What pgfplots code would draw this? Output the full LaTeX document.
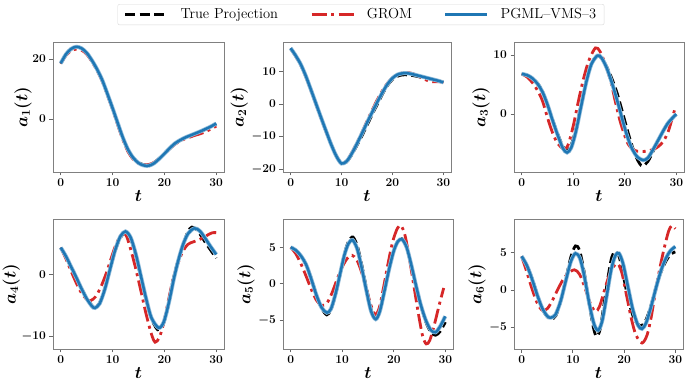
\documentclass[border=0pt]{standalone}
\usepackage{pgfplots}
\pgfplotsset{compat=1.18}
\definecolor{tabred}{HTML}{D62728}
\definecolor{tabblue}{HTML}{1F77B4}

\pgfplotsset{
  panel/.style={
    scale only axis, height=130pt, anchor=south west,
    xmin=-1.5, xmax=31.5, xtick={0,10,20,30},
    axis line style={black!50, line width=0.8pt},
    tick style={black!60, line width=0.8pt},
    tick align=outside, major tick length=3.5pt,
    xtick pos=bottom, ytick pos=left,
    ticklabel style={font=\fontsize{12}{12}\selectfont\boldmath},
    label style={font=\fontsize{17}{17}\selectfont\boldmath},
    xlabel={$t$},
    xlabel style={yshift=3pt},
    ylabel shift=-3pt,
  },
  truep/.style={black, line width=2.8pt, dash pattern=on 10pt off 4.5pt, smooth},
  grom/.style={tabred, line width=2.8pt, dash pattern=on 15pt off 4.5pt on 3pt off 4.5pt, smooth},
  pgmlband/.style={tabblue!50, line width=4pt, smooth, forget plot},
  pgml/.style={tabblue, line width=2.5pt, smooth},
}

\begin{document}
\begin{tikzpicture}
\useasboundingbox (0pt,0pt) rectangle (689pt,386pt);

% a1
\begin{axis}[panel, at={(53pt,214pt)}, width=171pt,
  ymin=-17.7, ymax=25.7, ytick={0,20}, ylabel={$a_1(t)$}, ylabel shift=-6pt]
\addplot[truep] coordinates {(0,18.5)(1,21.5)(2,23.3)(3,24)(4,23.5)(5,22)(6,19.5)(7,16.5)(8,13)(9,8.3)(10,3.5)(11,-1.5)(12,-6.5)(13,-10.5)(14,-13)(15,-14.5)(16,-15.3)(17,-15.4)(18,-14.6)(19,-13.2)(20,-11.5)(21,-9.8)(22,-8.3)(23,-7.2)(24,-6.3)(25,-5.6)(26,-4.9)(27,-4.2)(28,-3.4)(29,-2.6)(30,-1.7)};
\addplot[grom] coordinates {(0,18.5)(1,21.2)(2,22.8)(3,23.3)(4,23)(5,21.6)(6,19.2)(7,16.2)(8,12.6)(9,8)(10,3.2)(11,-2)(12,-7)(13,-11)(14,-13.5)(15,-14.8)(16,-15.3)(17,-15.2)(18,-14.5)(19,-13.2)(20,-11.6)(21,-10)(22,-8.5)(23,-7.4)(24,-6.6)(25,-6)(26,-5.4)(27,-4.9)(28,-4.2)(29,-3.3)(30,-2.4)};
\addplot[pgmlband] coordinates {(0,18.6)(1,21.6)(2,23.4)(3,24.1)(4,23.6)(5,22.1)(6,19.6)(7,16.6)(8,13)(9,8.4)(10,3.6)(11,-1.4)(12,-6.3)(13,-10.3)(14,-13)(15,-14.7)(16,-15.5)(17,-15.6)(18,-14.8)(19,-13.3)(20,-11.6)(21,-9.8)(22,-8.2)(23,-7.1)(24,-6.2)(25,-5.5)(26,-4.8)(27,-4.1)(28,-3.3)(29,-2.5)(30,-1.5)};
\addplot[pgml] coordinates {(0,18.6)(1,21.6)(2,23.4)(3,24.1)(4,23.6)(5,22.1)(6,19.6)(7,16.6)(8,13)(9,8.4)(10,3.6)(11,-1.4)(12,-6.3)(13,-10.3)(14,-13)(15,-14.7)(16,-15.5)(17,-15.6)(18,-14.8)(19,-13.3)(20,-11.6)(21,-9.8)(22,-8.2)(23,-7.1)(24,-6.2)(25,-5.5)(26,-4.8)(27,-4.1)(28,-3.3)(29,-2.5)(30,-1.5)};
\end{axis}

% a2 (carries the legend)
\begin{axis}[panel, at={(283pt,214pt)}, width=168pt,
  ymin=-20.9, ymax=19, ytick={-20,-10,0,10}, ylabel={$a_2(t)$},
  legend columns=3,
  legend style={at={(0.464,1.292)}, anchor=north, draw=black!15, rounded corners=2pt,
    font=\fontsize{14.5}{16}\selectfont, inner xsep=6pt, inner ysep=2.5pt,
    /tikz/every odd column/.append style={column sep=10pt},
    /tikz/every even column/.append style={column sep=30pt}},
  legend image code/.code={\draw[#1] (0pt,0pt) -- (42pt,0pt);}]
\addplot[truep] coordinates {(0,17)(1,14.8)(2,12)(3,8.5)(4,4.3)(5,0)(6,-4.3)(7,-8.5)(8,-12.5)(9,-16)(10,-18.3)(11,-17.8)(12,-15.6)(13,-12.8)(14,-9.8)(15,-6.6)(16,-3.3)(17,-0.2)(18,2.9)(19,5.6)(20,7.5)(21,8.5)(22,8.9)(23,8.9)(24,8.7)(25,8.4)(26,8.1)(27,7.8)(28,7.5)(29,7.1)(30,6.7)};
\addplot[grom] coordinates {(0,17)(1,14.6)(2,11.8)(3,8.3)(4,4.1)(5,-0.2)(6,-4.5)(7,-8.7)(8,-12.6)(9,-16)(10,-18.2)(11,-17.5)(12,-15)(13,-12)(14,-8.8)(15,-5.3)(16,-2)(17,1.2)(18,4)(19,6.3)(20,8)(21,9)(22,9.5)(23,9.6)(24,9.3)(25,8.6)(26,7.8)(27,7.1)(28,6.8)(29,6.8)(30,6.7)};
\addplot[pgmlband] coordinates {(0,17.1)(1,14.8)(2,12.1)(3,8.5)(4,4.3)(5,0)(6,-4.3)(7,-8.5)(8,-12.6)(9,-16.1)(10,-18.3)(11,-17.6)(12,-15.3)(13,-12.3)(14,-9.1)(15,-5.8)(16,-2.6)(17,0.5)(18,3.4)(19,6)(20,7.9)(21,9)(22,9.4)(23,9.4)(24,9.1)(25,8.7)(26,8.3)(27,7.9)(28,7.5)(29,7.1)(30,6.6)};
\addplot[pgml] coordinates {(0,17.1)(1,14.8)(2,12.1)(3,8.5)(4,4.3)(5,0)(6,-4.3)(7,-8.5)(8,-12.6)(9,-16.1)(10,-18.3)(11,-17.6)(12,-15.3)(13,-12.3)(14,-9.1)(15,-5.8)(16,-2.6)(17,0.5)(18,3.4)(19,6)(20,7.9)(21,9)(22,9.4)(23,9.4)(24,9.1)(25,8.7)(26,8.3)(27,7.9)(28,7.5)(29,7.1)(30,6.6)};
\legend{True Projection, GROM, PGML--VMS--3}
\end{axis}

% a3
\begin{axis}[panel, at={(514pt,214pt)}, width=170pt,
  ymin=-9.8, ymax=12.2, ytick={0,10}, ylabel={$a_3(t)$}]
\addplot[truep] coordinates {(0,6.8)(1,6.6)(2,6.1)(3,5.3)(4,3.9)(5,1.6)(6,-1)(7,-3.4)(8,-5.5)(8.7,-6.2)(9.5,-5.5)(10.5,-2.6)(11.5,1.5)(12.5,5.5)(13.5,8.5)(14.6,9.8)(15.5,9.5)(16.5,8)(17.5,6)(18.5,3.6)(19.5,0.5)(20.5,-2.7)(21.5,-5.6)(22.5,-7.8)(23.4,-8.8)(24.5,-8)(25.5,-6.3)(26.5,-4.5)(27.5,-2.8)(28.5,-1.4)(30,-0.1)};
\addplot[grom] coordinates {(0,6.8)(1,6.3)(2,5.4)(3,4.1)(4,2.3)(5,-0.6)(6,-3.2)(7,-5)(8.2,-5.9)(9,-5.2)(10,-2)(11,2.2)(12,6)(13,9)(14.3,11.2)(15.2,10.6)(16.2,8.5)(17.3,5.5)(18.2,2)(19.2,-1.5)(20.5,-4.8)(21.5,-5.9)(22.5,-6.3)(24,-6.3)(25.5,-6)(26.5,-5.5)(27.5,-4.6)(28.5,-2.8)(29.7,0.8)};
\addplot[pgmlband] coordinates {(0,6.8)(1,6.6)(2,6.1)(3,5.2)(4,3.8)(5,1.6)(6,-1.1)(7,-3.6)(8,-5.8)(8.8,-6.5)(9.6,-5.7)(10.5,-3)(11.5,1.2)(12.5,5.3)(13.5,8.4)(14.7,9.9)(15.5,9.5)(16.5,7.8)(17.5,5.3)(18.5,2.4)(19.5,-0.8)(20.5,-3.8)(21.5,-6)(22.5,-7.3)(23.6,-7.8)(24.5,-7.4)(25.5,-6)(26.5,-4.4)(27.5,-2.8)(28.5,-1.4)(30,0)};
\addplot[pgml] coordinates {(0,6.8)(1,6.6)(2,6.1)(3,5.2)(4,3.8)(5,1.6)(6,-1.1)(7,-3.6)(8,-5.8)(8.8,-6.5)(9.6,-5.7)(10.5,-3)(11.5,1.2)(12.5,5.3)(13.5,8.4)(14.7,9.9)(15.5,9.5)(16.5,7.8)(17.5,5.3)(18.5,2.4)(19.5,-0.8)(20.5,-3.8)(21.5,-6)(22.5,-7.3)(23.6,-7.8)(24.5,-7.4)(25.5,-6)(26.5,-4.4)(27.5,-2.8)(28.5,-1.4)(30,0)};
\end{axis}

% a4
\begin{axis}[panel, at={(53pt,37pt)}, width=171pt,
  ymin=-12, ymax=8.9, ytick={-10,0}, ylabel={$a_4(t)$}, ylabel shift=-5pt]
\addplot[truep] coordinates {(0,4.3)(1,2.8)(2,1.1)(3,-0.6)(4,-2.3)(5,-3.8)(6,-5)(6.6,-5.3)(7.5,-4.6)(8.5,-2.3)(9.5,0.8)(10.5,3.8)(11.5,5.9)(12.5,6.7)(13.5,5.7)(14.5,3)(15.5,-0.6)(16.5,-4.2)(17.5,-7.1)(18.7,-8.9)(19.7,-8.2)(20.7,-5.2)(21.6,-1.2)(22.5,1.8)(23.5,4.4)(24.5,6.8)(25.3,7.6)(26.2,7.2)(27,6.3)(28,5)(29,3.8)(30,2.6)};
\addplot[grom] coordinates {(0,4.3)(1,2.5)(2,0.5)(3,-1.4)(4,-3)(5,-4)(5.8,-4.2)(6.7,-3.6)(7.7,-2.1)(8.7,0)(9.7,2.5)(10.7,4.9)(11.8,6.5)(12.6,6.3)(13.5,4)(14.5,0.8)(15.5,-2.8)(16.5,-6.5)(17.5,-9.6)(18.2,-10.9)(19,-10.2)(19.8,-8)(20.7,-4.5)(21.6,-1)(22.5,1.5)(23.5,3.6)(24.5,4.8)(25.5,5.2)(26.5,5.5)(27.5,5.9)(28.5,6.4)(29.3,6.7)(30,6.7)};
\addplot[pgmlband] coordinates {(0,4.3)(1,2.9)(2,1.2)(3,-0.5)(4,-2.3)(5,-3.9)(6,-5.1)(6.6,-5.4)(7.5,-4.7)(8.5,-2.4)(9.5,0.8)(10.5,3.9)(11.5,6.1)(12.5,6.9)(13.5,5.9)(14.5,3.2)(15.5,-0.4)(16.5,-4)(17.5,-7)(18.9,-8.6)(19.9,-7.6)(20.9,-4.4)(21.8,-0.8)(22.7,2.3)(23.6,4.8)(24.6,6.6)(25.8,7.4)(26.8,7)(27.8,5.9)(28.8,4.6)(30,3.2)};
\addplot[pgml] coordinates {(0,4.3)(1,2.9)(2,1.2)(3,-0.5)(4,-2.3)(5,-3.9)(6,-5.1)(6.6,-5.4)(7.5,-4.7)(8.5,-2.4)(9.5,0.8)(10.5,3.9)(11.5,6.1)(12.5,6.9)(13.5,5.9)(14.5,3.2)(15.5,-0.4)(16.5,-4)(17.5,-7)(18.9,-8.6)(19.9,-7.6)(20.9,-4.4)(21.8,-0.8)(22.7,2.3)(23.6,4.8)(24.6,6.6)(25.8,7.4)(26.8,7)(27.8,5.9)(28.8,4.6)(30,3.2)};
\end{axis}

% a5
\begin{axis}[panel, at={(283pt,37pt)}, width=170pt,
  ymin=-9, ymax=8.9, ytick={-5,0,5}, ylabel={$a_5(t)$}]
\addplot[truep] coordinates {(0,5)(1,4.6)(2,3.8)(3,2.6)(4,0.7)(5,-1.6)(6,-3.4)(7,-4.3)(7.8,-3.6)(8.7,-1.5)(9.6,1.3)(10.4,4)(11.2,5.8)(12.1,6.4)(13,5)(13.9,2.2)(14.8,-1)(15.7,-3.8)(16.5,-4.8)(17.3,-3.8)(18.2,-1)(19.1,2)(20,4.5)(20.8,5.9)(21.6,6.2)(22.5,5)(23.4,2.5)(24.3,-0.3)(25.2,-2.8)(26.2,-5.2)(27.2,-6.7)(28.1,-7.1)(29,-6.6)(30,-5.3)};
\addplot[grom] coordinates {(0,5)(1,4.1)(2,2.7)(3,1)(4,-0.8)(5,-2.3)(6,-3)(7,-2.7)(8,-1.3)(9,0.6)(10,2.3)(11,3.5)(11.9,3.9)(12.8,3.3)(13.7,1.7)(14.6,-0.5)(15.5,-2.8)(16.4,-4.3)(17.2,-3.3)(18,-0.6)(18.9,2.8)(19.8,5.8)(20.7,7.6)(21.4,8)(22.2,6.6)(23,3.6)(23.9,-0.3)(24.8,-4.2)(25.6,-7.2)(26.3,-8.3)(27,-7.8)(27.9,-5.6)(28.8,-3)(29.7,-0.6)};
\addplot[pgmlband] coordinates {(0,5)(1,4.6)(2,3.8)(3,2.6)(4,0.6)(5,-1.6)(6,-3.3)(7,-4)(7.8,-3.5)(8.7,-1.4)(9.6,1.4)(10.4,3.9)(11.2,5.5)(12,6)(12.9,4.8)(13.8,2.1)(14.7,-1)(15.6,-3.8)(16.5,-4.9)(17.3,-3.8)(18.2,-1)(19.1,2)(20,4.5)(20.8,5.8)(21.6,6.1)(22.5,5)(23.4,2.6)(24.3,-0.2)(25.2,-2.8)(26.2,-5)(27.2,-6.4)(28.1,-6.7)(29,-5.9)(30,-4.5)};
\addplot[pgml] coordinates {(0,5)(1,4.6)(2,3.8)(3,2.6)(4,0.6)(5,-1.6)(6,-3.3)(7,-4)(7.8,-3.5)(8.7,-1.4)(9.6,1.4)(10.4,3.9)(11.2,5.5)(12,6)(12.9,4.8)(13.8,2.1)(14.7,-1)(15.6,-3.8)(16.5,-4.9)(17.3,-3.8)(18.2,-1)(19.1,2)(20,4.5)(20.8,5.8)(21.6,6.1)(22.5,5)(23.4,2.6)(24.3,-0.2)(25.2,-2.8)(26.2,-5)(27.2,-6.4)(28.1,-6.7)(29,-5.9)(30,-4.5)};
\end{axis}

% a6
\begin{axis}[panel, at={(514pt,37pt)}, width=169pt,
  ymin=-7.9, ymax=9.5, ytick={-5,0,5}, ylabel={$a_6(t)$}]
\addplot[truep] coordinates {(0,4.5)(1,3.3)(2,1.6)(3,-0.5)(4,-2.5)(5,-3.6)(5.8,-3.9)(6.7,-3.4)(7.7,-1.3)(8.7,1.7)(9.6,4.4)(10.5,5.9)(11.3,5.3)(12.2,2.4)(13.1,-1.5)(14,-5)(14.6,-6.2)(15.3,-5.3)(16.1,-1.8)(17,2.3)(17.6,4.4)(18.3,5.2)(19.1,4.3)(20,1.4)(21,-1.8)(22,-3.9)(23.2,-4.8)(24.2,-4.1)(25.2,-2.2)(26.2,0.3)(27.2,2.4)(28.2,3.9)(29.1,4.8)(30,5.1)};
\addplot[grom] coordinates {(0,4.5)(1,2.4)(2,0.2)(3,-1.7)(4,-2.7)(5,-2.5)(6,-1.4)(7,0)(8,1.3)(9,2.2)(10.3,2.7)(11.3,2.1)(12.3,0.4)(13.4,-1.8)(14.4,-2.9)(15.2,-2.2)(16.1,-0.2)(17.1,2)(18,3.2)(18.8,3.5)(19.6,2.2)(20.5,-0.8)(21.4,-3.8)(22.3,-6)(23.5,-7.1)(24.5,-6)(25.3,-3.6)(26.1,-0.3)(27,3)(27.9,5.8)(28.7,7.9)(29.3,8.6)(30,8.2)};
\addplot[pgmlband] coordinates {(0,4.5)(1,3.3)(2,1.5)(3,-0.6)(4,-2.4)(5,-3.5)(5.7,-3.7)(6.6,-3.3)(7.6,-1.5)(8.6,1.2)(9.6,3.8)(10.5,4.9)(11.4,4.2)(12.3,1.6)(13.2,-1.8)(14.1,-4.5)(14.9,-5.4)(15.7,-4.2)(16.6,-0.8)(17.5,2.8)(18.3,4.6)(19,4.9)(19.8,3.5)(20.7,0.6)(21.7,-2.6)(22.7,-4.7)(23.5,-5.2)(24.3,-4.4)(25.2,-2.4)(26.2,0.2)(27.2,2.6)(28.2,4.3)(29.1,5.3)(30,5.8)};
\addplot[pgml] coordinates {(0,4.5)(1,3.3)(2,1.5)(3,-0.6)(4,-2.4)(5,-3.5)(5.7,-3.7)(6.6,-3.3)(7.6,-1.5)(8.6,1.2)(9.6,3.8)(10.5,4.9)(11.4,4.2)(12.3,1.6)(13.2,-1.8)(14.1,-4.5)(14.9,-5.4)(15.7,-4.2)(16.6,-0.8)(17.5,2.8)(18.3,4.6)(19,4.9)(19.8,3.5)(20.7,0.6)(21.7,-2.6)(22.7,-4.7)(23.5,-5.2)(24.3,-4.4)(25.2,-2.4)(26.2,0.2)(27.2,2.6)(28.2,4.3)(29.1,5.3)(30,5.8)};
\end{axis}
\end{tikzpicture}
\end{document}
